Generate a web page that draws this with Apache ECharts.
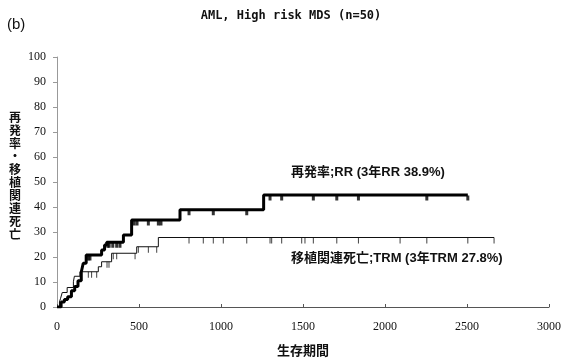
<!DOCTYPE html>
<html><head><meta charset="utf-8">
<script src="https://cdn.jsdelivr.net/npm/echarts@6/dist/echarts.min.js"></script>
<style>html,body{margin:0;padding:0;background:#fff}#c{width:582px;height:358px}</style>
</head><body><div id="c"></div>
<script>
// ---- data ----
const titleText = 'AML, High risk MDS (n=50)';
const panelLabel = '(b)';
const yAxisTitle = '再発率・移植関連死亡';
const xAxisTitle = '生存期間';
const rrLabel = '再発率;RR (3年RR 38.9%)';
const trmLabel = '移植関連死亡;TRM (3年TRM 27.8%)';

const xTickValues = [0, 500, 1000, 1500, 2000, 2500, 3000];
const yTickValues = [0, 10, 20, 30, 40, 50, 60, 70, 80, 90, 100];

// Relapse rate (RR) step curve: event times (days) and cumulative %
const rrTimes  = [0, 25, 45, 65, 88, 108, 128, 148, 160, 178, 272, 290, 303, 405, 455, 750, 1260, 2505];
const rrValues = [0, 2, 3, 4.1, 6.5, 8.2, 10.5, 14, 17.5, 20.8, 22.8, 24.8, 25.9, 28.8, 34.8, 38.9, 44.8, 44.8];
// RR censoring times
const rrCensor = [190, 201, 310, 318, 340, 364, 384, 470, 488, 557, 618, 634, 805, 953, 1157, 1299, 1370, 1563, 1706, 1838, 2255, 2505];

// Transplant-related mortality (TRM) step curve
const trmTimes  = [0, 15, 22, 32, 62, 100, 106, 140, 252, 272, 333, 486, 618, 2665];
const trmValues = [0, 2, 3.5, 5.8, 7.8, 10.1, 12.3, 14.1, 16.1, 18.1, 21.5, 24.1, 27.8, 27.8];
// TRM censoring times
const trmCensor = [191, 211, 242, 305, 317, 343, 364, 476, 496, 557, 608, 805, 892, 953, 1014, 1157, 1299, 1309, 1370, 1492, 1512, 1563, 1706, 1838, 2092, 2255, 2505, 2665];

// ---- helpers ----
function stepAt(times, values, t) {
  let v = values[0];
  for (let i = 0; i < times.length; i++) { if (times[i] <= t) v = values[i]; }
  return v;
}
const rrLine = rrTimes.map((t, i) => [t, rrValues[i]]);
const trmLine = trmTimes.map((t, i) => [t, trmValues[i]]);
const rrMarks = rrCensor.map(t => [t, stepAt(rrTimes, rrValues, t)]);
const trmMarks = trmCensor.map(t => [t, stepAt(trmTimes, trmValues, t)]);

const serif = "'Liberation Serif', 'DejaVu Serif', serif";
const cjkBold = "'Liberation Sans', 'Noto Sans CJK JP', sans-serif";

const chart = echarts.init(document.getElementById('c'), null, {renderer: 'canvas'});
chart.setOption({
  animation: false,
  backgroundColor: '#fff',
  grid: {left: 57, right: 33, top: 57, bottom: 51, containLabel: false},
  xAxis: {
    type: 'value', min: xTickValues[0], max: xTickValues[xTickValues.length - 1], interval: 500,
    axisLine: {lineStyle: {color: '#555', width: 1}},
    axisTick: {show: true, inside: true, length: 3, lineStyle: {color: '#555'}},
    axisLabel: {color: '#111', fontFamily: serif, fontSize: 12, margin: 14,
      formatter: v => xTickValues.includes(v) ? String(v) : ''},
    splitLine: {show: false}
  },
  yAxis: {
    type: 'value', min: yTickValues[0], max: yTickValues[yTickValues.length - 1], interval: 10,
    axisLine: {show: true, lineStyle: {color: '#999', width: 1}},
    axisTick: {show: true, inside: false, length: 4, lineStyle: {color: '#999'}},
    axisLabel: {color: '#111', fontFamily: serif, fontSize: 12, margin: 11,
      formatter: v => yTickValues.includes(v) ? String(v) : ''},
    splitLine: {show: false}
  },
  graphic: [
    {type: 'text', left: 7, top: 17, style: {text: panelLabel, font: "15px 'Liberation Sans', sans-serif", fill: '#111'}},
    {type: 'text', x: 291, y: 16, style: {text: titleText, font: "bold 12px 'DejaVu Sans Mono', monospace", fill: '#111', textAlign: 'center', textVerticalAlign: 'middle'}},
    {type: 'text', x: 15, y: 176, style: {text: yAxisTitle.split('').join('\n'), font: "bold 12px 'Noto Sans CJK JP', sans-serif", lineHeight: 13, fill: '#111', textAlign: 'center', textVerticalAlign: 'middle'}},
    {type: 'text', x: 303, y: 350, style: {text: xAxisTitle, font: "bold 13px 'Noto Sans CJK JP', sans-serif", fill: '#111', textAlign: 'center', textVerticalAlign: 'middle'}},
    {type: 'text', x: 291, y: 172, style: {text: rrLabel, font: "bold 13px " + cjkBold, fill: '#111', textAlign: 'left', textVerticalAlign: 'middle'}},
    {type: 'text', x: 291, y: 258, style: {text: trmLabel, font: "bold 13px " + cjkBold, fill: '#111', textAlign: 'left', textVerticalAlign: 'middle'}}
  ],
  series: [
    {type: 'line', name: 'TRM', data: trmLine, step: 'end', showSymbol: false,
      lineStyle: {color: '#111', width: 1}, z: 2},
    {type: 'scatter', name: 'TRM censor', data: trmMarks, symbol: 'rect', symbolSize: [1, 6], symbolOffset: [0, 3],
      itemStyle: {color: '#111'}, z: 3},
    {type: 'line', name: 'RR', data: rrLine, step: 'end', showSymbol: false,
      lineStyle: {color: '#000', width: 3}, z: 4},
    {type: 'scatter', name: 'RR censor', data: rrMarks, symbol: 'rect', symbolSize: [3, 5], symbolOffset: [0, 3],
      itemStyle: {color: '#000'}, z: 5}
  ]
});
</script>
</body></html>
